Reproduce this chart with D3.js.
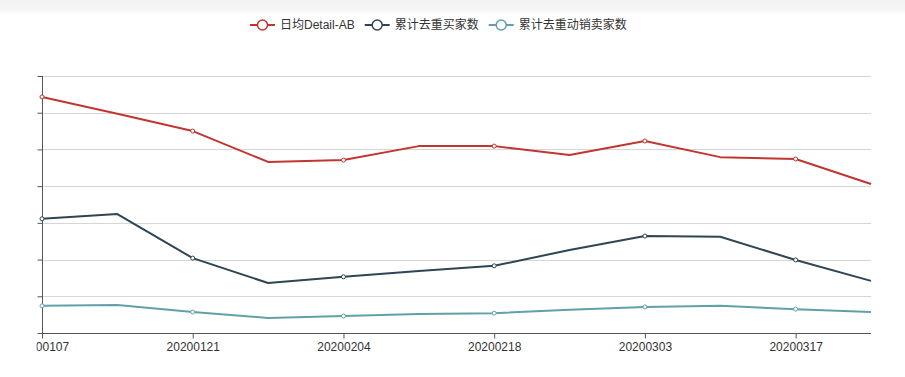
<!DOCTYPE html>
<html lang="zh">
<head>
    <meta charset="UTF-8">
    <title>日均Detail-AB 趋势</title>
    <script src="https://cdnjs.cloudflare.com/ajax/libs/d3/7.8.5/d3.min.js"></script>
    <style>
        body {
            margin: 0;
            padding: 0;
            background-color: #ffffff;
            font-family: "Liberation Sans", "Noto Sans CJK SC", sans-serif;
        }
        #chart {
            width: 905px;
            height: 377px;
        }
    </style>
</head>
<body>
    <div id="chart"></div>
    <script>
        const dates = ["20200107", "20200114", "20200121", "20200128", "20200204", "20200211",
                       "20200218", "20200225", "20200303", "20200310", "20200317", "20200324"];
        const seriesNames = ["日均Detail-AB", "累计去重买家数", "累计去重动销卖家数"];
        const detailAB = [64.3, 59.7, 55.0, 46.6, 47.1, 50.9, 50.9, 48.5, 52.3, 47.9, 47.4, 40.6];
        const buyers = [31.1, 32.4, 20.4, 13.6, 15.3, 16.9, 18.3, 22.6, 26.4, 26.2, 19.9, 14.2];
        const sellers = [7.4, 7.6, 5.7, 4.1, 4.6, 5.2, 5.4, 6.3, 7.1, 7.4, 6.5, 5.7];
        const colors = ["#c23531", "#2f4554", "#61a0a8"];

        const width = 905;
        const height = 377;
        const margin = {top: 76, right: 34, bottom: 44, left: 42};

        const svg = d3.select("#chart")
            .append("svg")
            .attr("width", width)
            .attr("height", height)
            .attr("viewBox", [0, 0, width, height]);

        // soft gray band along the top edge
        const grad = svg.append("defs").append("linearGradient")
            .attr("id", "topband")
            .attr("x1", 0).attr("y1", 0).attr("x2", 0).attr("y2", 1);
        grad.append("stop").attr("offset", "0%").attr("stop-color", "#f2f2f2");
        grad.append("stop").attr("offset", "70%").attr("stop-color", "#f6f6f6");
        grad.append("stop").attr("offset", "100%").attr("stop-color", "#ffffff");
        svg.append("rect")
            .attr("width", width)
            .attr("height", 14)
            .attr("fill", "url(#topband)");

        // the left edge of the original is cut off
        svg.select("defs").append("clipPath")
            .attr("id", "view")
            .append("rect")
            .attr("x", 36.5).attr("y", 0)
            .attr("width", width).attr("height", height);

        const g = svg.append("g").attr("clip-path", "url(#view)");

        const x = d3.scalePoint()
            .domain(dates)
            .range([margin.left, width - margin.right]);

        const y = d3.scaleLinear()
            .domain([0, 70])
            .range([height - margin.bottom, margin.top]);

        // horizontal grid
        g.append("g")
            .selectAll("line")
            .data(y.ticks(7).slice(1))
            .join("line")
            .attr("x1", margin.left)
            .attr("x2", width - margin.right)
            .attr("y1", d => Math.round(y(d)) + 0.5)
            .attr("y2", d => Math.round(y(d)) + 0.5)
            .attr("stroke", "#d6d6d6")
            .attr("stroke-width", 1);

        // y axis (labels hidden by the crop)
        const yAxis = g.append("g")
            .attr("transform", `translate(${margin.left + 0.5},0)`)
            .call(d3.axisLeft(y).ticks(7).tickSize(5).tickFormat(""));
        yAxis.selectAll("path, line").attr("stroke", "#555");
        yAxis.select(".domain").attr("d", `M0,${y(0)}V${y(70)}`);

        // x axis, every other date labelled
        const shown = dates.filter((d, i) => i % 2 === 0);
        const xAxis = g.append("g")
            .attr("transform", `translate(0,${Math.round(y(0)) + 0.5})`)
            .call(d3.axisBottom(x).tickValues(shown).tickSize(5).tickPadding(4));
        xAxis.select(".domain").attr("d", `M${margin.left},0H${width - margin.right}`).attr("stroke", "#555");
        xAxis.selectAll(".tick line").attr("stroke", "#555");
        xAxis.selectAll("text")
            .attr("fill", "#333")
            .style("font-size", "12px")
            .style("font-family", "'Liberation Sans', sans-serif");

        const allSeries = [detailAB, buyers, sellers];

        const line = d3.line()
            .x((d, i) => x(dates[i]))
            .y(d => y(d));

        allSeries.forEach((vals, s) => {
            g.append("path")
                .datum(vals)
                .attr("fill", "none")
                .attr("stroke", colors[s])
                .attr("stroke-width", 2)
                .attr("stroke-linejoin", "round")
                .attr("d", line);

            g.append("g")
                .selectAll("circle")
                .data(vals.map((v, i) => ({v, i})).filter(d => d.i % 2 === 0))
                .join("circle")
                .attr("cx", d => x(dates[d.i]))
                .attr("cy", d => y(d.v))
                .attr("r", 2)
                .attr("fill", "#fff")
                .attr("stroke", colors[s])
                .attr("stroke-width", 1);
        });

        // legend
        const legend = svg.append("g").attr("transform", "translate(250,25)");
        let lx = 0;
        seriesNames.forEach((name, s) => {
            const item = legend.append("g").attr("transform", `translate(${lx},0)`);
            item.append("line")
                .attr("x1", 0).attr("x2", 25)
                .attr("y1", 0).attr("y2", 0)
                .attr("stroke", colors[s])
                .attr("stroke-width", 2);
            item.append("circle")
                .attr("cx", 12.5).attr("cy", 0)
                .attr("r", 5)
                .attr("fill", "#fff")
                .attr("stroke", colors[s])
                .attr("stroke-width", 1.5);
            const t = item.append("text")
                .attr("x", 30)
                .attr("y", 0)
                .attr("dy", "0.35em")
                .attr("fill", "#333")
                .style("font-size", "12px")
                .text(name);
            lx += 30 + t.node().getComputedTextLength() + 10;
        });
    </script>
</body>
</html>
